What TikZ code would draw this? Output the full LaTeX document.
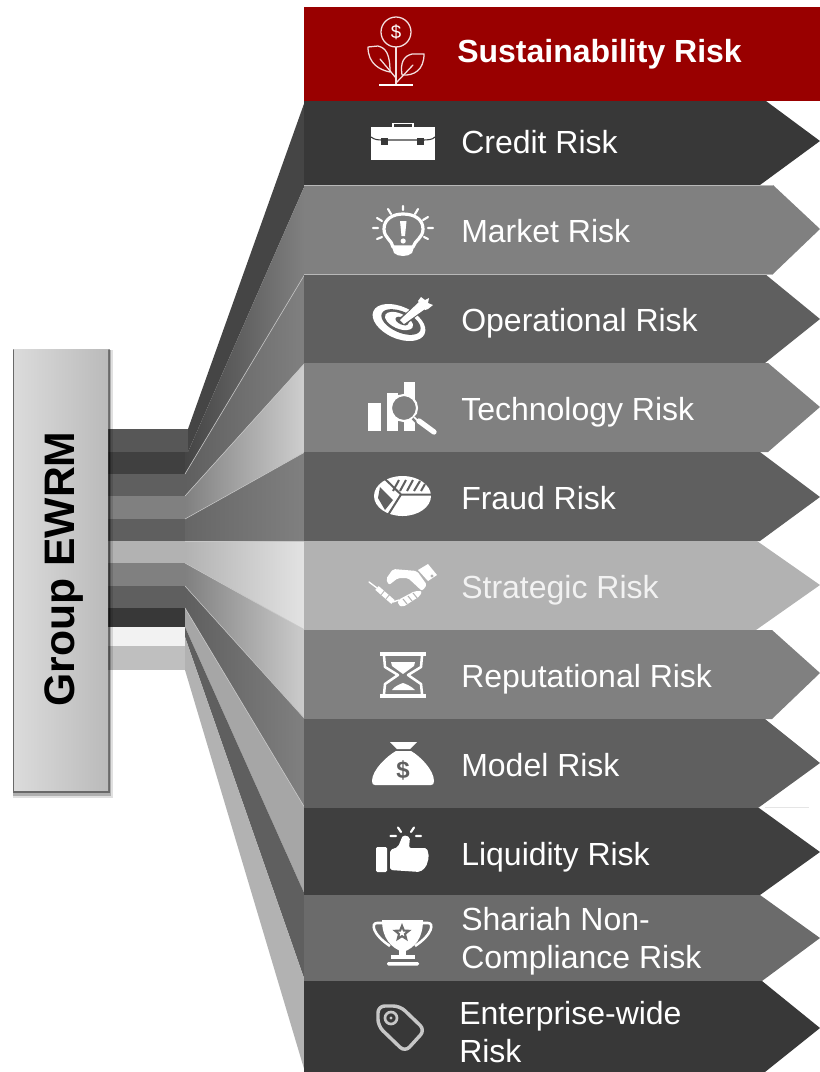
\documentclass[tikz,border=0pt]{standalone}
\usepackage{fontspec}
\setmainfont{Liberation Sans}
\usetikzlibrary{positioning,shapes.geometric}
\definecolor{riskred}{HTML}{990000}
\definecolor{ink}{HTML}{383838}
\definecolor{coal}{HTML}{3F3F3F}
\definecolor{slate}{HTML}{5F5F5F}
\definecolor{stone}{HTML}{6B6B6B}
\definecolor{mid}{HTML}{808080}
\definecolor{pale}{HTML}{B2B2B2}
\tikzset{
    riskname/.style={anchor=west,inner sep=0pt,text=white,align=left,text height=18pt,text depth=5pt,
        font=\fontsize{24}{28.6}\selectfont},
    fanedge/.style={draw=white!78!black,line width=0.4pt},
    rowedge/.style={draw=white!72!black,line width=0.5pt},
    iconfill/.style={fill=white,draw=none},
    iconline/.style={draw=white,line width=1.6pt,line cap=round,line join=round,fill=none},
    iconthin/.style={draw=white!88!riskred,line width=0.95pt,line cap=round,line join=round,fill=none}
}
\begin{document}
\begin{tikzpicture}[x=0.75pt,y=-0.75pt,node distance=66.75pt]
    \useasboundingbox (0,0) rectangle (820,1072);

    % bars out of the box
    \fill[fill=black!66] (108,429) rectangle (188,452);
    \fill[fill=black!75] (108,452) rectangle (185,474);
    \fill[slate] (108,474) rectangle (185,496);
    \fill[mid]   (108,496) rectangle (185,519);
    \fill[slate] (108,519) rectangle (185,541);
    \fill[pale]  (108,541) rectangle (185,563);
    \fill[mid]   (108,563) rectangle (185,586);
    \fill[slate] (108,586) rectangle (185,608);
    \fill[ink]   (108,608) rectangle (185,627);
    \fill[black!5]  (108,627) rectangle (185,646);
    \fill[black!25] (108,646) rectangle (185,670);

    % fan
    \fill[black!73] (188,429) -- (305,101) -- (305,185) -- (188,452) -- (185,474) -- (185,452) -- (188,452) -- cycle;
    \shade[left color=black!73,right color=mid] (188,452) -- (305,185) -- (305,274) -- (185,474) -- (185,452) -- cycle;
    \shade[left color=slate,right color=mid] (185,474) -- (305,274) -- (305,363) -- (185,496) -- cycle;
    \shade[left color=mid,right color=black!19] (185,496) -- (305,363) -- (305,452) -- (185,519) -- cycle;
    \shade[left color=black!60,right color=mid] (185,519) -- (305,452) -- (305,541) -- (185,541) -- cycle;
    \shade[left color=pale,right color=black!11] (185,541) -- (305,541) -- (305,630) -- (185,563) -- cycle;
    \shade[left color=mid,right color=black!20] (185,563) -- (305,630) -- (305,719) -- (185,586) -- cycle;
    \shade[left color=slate,right color=mid] (185,586) -- (305,719) -- (305,808) -- (185,608) -- cycle;
    \fill[black!35] (185,608) -- (305,808) -- (305,895) -- (185,627) -- cycle;
    \fill[slate] (185,627) -- (305,895) -- (305,981) -- (185,637) -- cycle;
    \fill[pale] (185,637) -- (305,981) -- (305,1072) -- (185,670) -- cycle;
    \draw[fanedge] (185,474) -- (305,274);
    \draw[fanedge] (185,496) -- (305,363);
    \draw[fanedge] (185,519) -- (305,452);
    \draw[fanedge] (185,541) -- (305,541);
    \draw[fanedge] (185,563) -- (305,630);
    \draw[fanedge] (185,586) -- (305,719);
    \draw[fanedge] (185,608) -- (305,808);

    % rows
    \fill[riskred] (304,7) rectangle (820,101);
    \fill[ink]   (304,101) -- (766,101) -- (820,141) -- (760,185) -- (304,185) -- cycle;
    \fill[mid]   (304,185) -- (773,185) -- (820,229) -- (773,274) -- (304,274) -- cycle;
    \fill[slate] (304,274) -- (765,274) -- (820,319) -- (765,363) -- (304,363) -- cycle;
    \fill[mid]   (304,363) -- (768,363) -- (820,407) -- (768,452) -- (304,452) -- cycle;
    \fill[slate] (304,452) -- (760,452) -- (820,497) -- (760,541) -- (304,541) -- cycle;
    \fill[pale]  (304,541) -- (757,541) -- (820,585) -- (756,630) -- (304,630) -- cycle;
    \fill[mid]   (304,630) -- (772,630) -- (820,673) -- (772,719) -- (304,719) -- cycle;
    \fill[slate] (304,719) -- (765,719) -- (820,763) -- (758,808) -- (304,808) -- cycle;
    \fill[coal]  (304,808) -- (759,808) -- (820,852) -- (760,895) -- (304,895) -- cycle;
    \fill[stone] (304,895) -- (760,895) -- (820,938) -- (762,981) -- (304,981) -- cycle;
    \fill[ink]   (304,981) -- (762,981) -- (820,1028) -- (765,1072) -- (304,1072) -- cycle;
    \draw[rowedge] (304,185) -- (773,185);
    \draw[rowedge] (304,274) -- (773,274);
    \draw[black!10,line width=0.75pt] (765,807.5) -- (809,807.5);

    % names
    \node[riskname,font=\fontsize{24}{29}\selectfont\bfseries] (sustainname) at (457,54) {Sustainability Risk};
    \node[riskname] (creditname) at (461,144.5) {Credit Risk};
    \node[riskname] (marketname) [below=of creditname.west,anchor=west] {Market Risk};
    \node[riskname] (opername) [below=of marketname.west,anchor=west] {Operational Risk};
    \node[riskname] (techname) [below=of opername.west,anchor=west] {Technology Risk};
    \node[riskname] (fraudname) [below=of techname.west,anchor=west] {Fraud Risk};
    \node[riskname,text=white!95!black] (stratname) [below=of fraudname.west,anchor=west] {Strategic Risk};
    \node[riskname] (reputname) [below=of stratname.west,anchor=west] {Reputational Risk};
    \node[riskname] (modelname) [below=of reputname.west,anchor=west] {Model Risk};
    \node[riskname] (liquidname) [below=of modelname.west,anchor=west] {Liquidity Risk};
    \node[riskname] (shariahname) at (461,960) {Shariah Non-\\Compliance Risk};
    \node[riskname] (enterprisename) at (459,1054) {Enterprise-wide\\Risk};

    % sprout
    \draw[iconthin] (396,32) circle [radius=15];
    \node[text=white,inner sep=0pt,font=\fontsize{14}{14}\selectfont] (sproutdollar) at (396,32) {\$};
    \draw[iconthin] (396,47) -- (396,84);
    \draw[white,line width=0.95pt] (379,85) -- (413,85);
    \draw[iconthin] (368,47) -- (378,46) .. controls (386,48) and (390,54) .. (390,72) .. controls (380,70) and (368,64) .. cycle;
    \draw[iconthin] (424,54) -- (412,54) .. controls (404,56) and (400,62) .. (402,75) .. controls (414,76) and (424,70) .. cycle;
    \draw[iconthin] (380,59) -- (396,78);
    \draw[iconthin] (413,65) -- (396,83);

    % briefcase
    \fill[iconfill] (371,127) rectangle (435,160);
    \draw[white,line width=1.2pt] (393,127) -- (393,123.5) -- (413,123.5) -- (413,127);
    \draw[ink,line width=0.8pt] (371,137) .. controls (375,140) and (378,140) .. (384,140) -- (420,140) .. controls (428,140) and (432,140) .. (435,137);
    \fill[ink] (380.5,138) rectangle (387.5,144.5);
    \fill[ink] (416.5,138) rectangle (423.5,144.5);

    % bulb
    \draw[white,line width=2.4pt,line join=round] (393,247) .. controls (392,240) and (384,238) .. (384,229) .. controls (384,219) and (393,214) .. (403,214) .. controls (414,214) and (423,219) .. (423,229) .. controls (423,238) and (415,240) .. (413,247) -- cycle;
    \fill[iconfill] (392,247) -- (414,247) -- (412,253) .. controls (408,257) and (398,257) .. (394,253) -- cycle;
    \fill[iconfill] (400,221) -- (406.5,221) -- (405,236) -- (401.5,236) -- cycle;
    \fill[iconfill] (403.2,241) circle [radius=2.6];
    \draw[iconline] (373,228) -- (378,228) (377,218) -- (382,221) (388,209) -- (391,214) (403,206) -- (403,210) (418,209) -- (415,214) (428,217) -- (423,220) (433,228) -- (428,228) (377,239) -- (382,237) (428,239) -- (424,237);

    % target
    \fill[iconfill] (399,322.5) circle [x radius=28,y radius=16,rotate=-24];
    \fill[slate] (401,322) circle [x radius=21,y radius=10.5,rotate=-24];
    \fill[iconfill] (399,321) circle [x radius=15,y radius=7.5,rotate=-24];
    \fill[slate] (402,321) circle [x radius=7,y radius=3.5,rotate=-24];
    \draw[slate,line width=7pt] (402,322) -- (423,305);
    \fill[iconfill] (400,320) -- (419,302) -- (425,309) -- (404,324) -- cycle;
    \fill[iconfill] (418,301) -- (421,297) -- (425,300) -- (429,298) -- (428,303) -- (433,305) -- (428,309) -- (425,310) -- cycle;

    % bars with lens
    \fill[iconfill] (368,403) rectangle (381,431);
    \fill[iconfill] (387,393) rectangle (398,431);
    \fill[iconfill] (404,382) rectangle (415,431);
    \fill[mid] (404,408) circle [radius=13];
    \draw[white,line width=1.6pt] (404,408) circle [radius=13];
    \draw[mid,line width=5pt] (414,417) -- (418,421);
    \draw[white,line width=1.2pt] (414,417) -- (419,422);
    \draw[white,line width=4pt,line cap=round] (419,421) -- (434,432);

    % pie
    \fill[iconfill] (402.5,496) circle [x radius=28.5,y radius=20];
    \fill[slate] (380,487) -- (393,500) -- (385,510) -- (378,498) -- cycle;
    \draw[slate,line width=1.5pt] (401,494.5) -- (432,494.5) (401,494.5) -- (384,478) (401,494.5) -- (388,515);
    \draw[slate,line width=1.5pt] (393,491) -- (399,480) (400,491) -- (406,480) (407,491) -- (413,480) (414,491) -- (420,481) (421,491) -- (425,484);

    % handshake
    \fill[iconfill] (418,570) -- (428,564) -- (437,575) -- (428,581) -- cycle;
    \fill[pale] (432,576) circle [radius=1.6];
    \fill[iconfill,rounded corners=1.5pt] (386,579) -- (393,569) -- (417,571) -- (427,585) -- (422,591) -- (408,578) -- (398,578) -- (389,585) -- cycle;
    \fill[iconfill,rounded corners=1.5pt] (398,600) -- (415,591) -- (422,591) -- (420,596) -- (403,607) -- (398,605) -- cycle;
    \draw[pale,line width=0.8pt] (403,599) -- (407,604) (408,596) -- (412,601) (413,593) -- (417,598);
    \draw[white,line width=1pt,line cap=round] (369,582) -- (377,588);
    \draw[white,line width=3.8pt] (377,588) -- (393,602);
    \draw[white,line width=1pt] (393,602) -- (399,600);
    \draw[pale,line width=0.6pt] (381,595) -- (385,590) (386,599) -- (390,594);

    % hourglass
    \fill[iconfill] (380,652) rectangle (426,656);
    \fill[iconfill] (380,694) rectangle (426,698);
    \draw[iconline,line width=1.9pt] (384,656) -- (385,667) -- (398,675) -- (385,684) -- (384,694);
    \draw[iconline,line width=1.9pt] (422,656) -- (421,667) -- (408,675) -- (421,684) -- (422,694);
    \fill[iconfill] (391,662) -- (415,662) -- (414,666) -- (403,674) -- (392,666) -- cycle;
    \fill[iconfill] (392,690) .. controls (395,686) and (400,684) .. (403,683) .. controls (406,684) and (411,686) .. (415,690) -- cycle;

    % money bag
    \fill[iconfill] (390,742) -- (417,742) -- (410,749) -- (397,749) -- cycle;
    \fill[iconfill] (396,751) -- (411,751) .. controls (420,756) and (434,770) .. (434,781) .. controls (434,784) and (433,785) .. (431,785) -- (375,785) .. controls (373,785) and (372,784) .. (372,781) .. controls (372,770) and (387,756) .. cycle;
    \node[text=slate,inner sep=0pt,font=\fontsize{18}{18}\selectfont\bfseries] (bagdollar) at (403,770) {\$};

    % thumb
    \fill[iconfill,rounded corners=1pt] (376,847) rectangle (387,872);
    \fill[iconfill,rounded corners=1.5pt] (390,850) -- (398,847) -- (403,835) -- (410,837) -- (409,848) -- (427,848) -- (429,857) -- (426,867) -- (420,872) -- (390,870) -- cycle;
    \draw[iconline] (390.5,836) -- (396,836) (398,827.5) -- (401,832) (414,827.5) -- (411,832) (416,836) -- (421,836);

    % trophy
    \fill[iconfill] (382,920) -- (423,920) .. controls (423,938) and (415,948) .. (403,952) .. controls (391,948) and (382,938) .. cycle;
    \draw[white,line width=1.9pt] (382,923) -- (377,923) .. controls (371,923) and (372,934) .. (390,946);
    \draw[white,line width=1.9pt] (423,923) -- (428,923) .. controls (434,923) and (433,934) .. (415,946);
    \fill[iconfill] (399,950) rectangle (406,956);
    \fill[iconfill] (391,955) rectangle (415,958.5);
    \fill[iconfill,rounded corners=1pt] (387,962) rectangle (419,965.5);
    \node[star,star points=5,star point ratio=2.3,fill=stone,inner sep=0pt,minimum size=15pt] (trophystar) at (402,933) {};
    \node[star,star points=5,star point ratio=2.3,fill=white,inner sep=0pt,minimum size=6pt] (trophycore) at (402,933) {};

    % tag
    \draw[black!22,line width=2.6pt,rounded corners=5pt,line join=round] (378,1006) -- (400,1006) -- (425,1030) -- (405,1052) -- (378,1026) -- cycle;
    \draw[black!22,line width=2pt] (391,1018) circle [radius=6];
    \fill[black!22] (391,1018) circle [radius=1.6];

    % box
    \fill[black,opacity=0.12] (13,350) rectangle (112.5,798);
    \fill[black,opacity=0.22] (13,350) rectangle (111,795.5);
    \fill[black,opacity=0.4] (13,349) rectangle (109.5,793);
    \shade[left color=black!14,right color=black!27] (14,349) rectangle (108,790);
    \node[rotate=90,inner sep=0pt,font=\fontsize{32}{38}\selectfont\bfseries,text=black] (groupname) at (64,569) {Group EWRM};
\end{tikzpicture}
\end{document}
